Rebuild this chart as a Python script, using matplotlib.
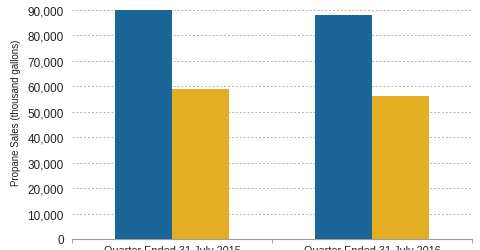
import matplotlib
matplotlib.use("Agg")
import matplotlib.pyplot as plt
import numpy as np

categories = ["Quarter Ended 31 July 2015", "Quarter Ended 31 July 2016"]
series_a = [89900, 87800]
series_b = [58900, 56100]
yticks = [0, 10000, 20000, 30000, 40000, 50000, 60000, 70000, 80000, 90000]

plt.rcParams['font.family'] = ['Liberation Sans', 'DejaVu Sans']

fig = plt.figure(figsize=(4.8, 2.51), dpi=100)
ax = fig.add_axes([72/480, 11/251, 400/480, 229.3/251])

x = np.arange(len(categories))
w = 0.285
ax.bar(x - w/2, series_a, width=w, color="#1B6699", zorder=3)
ax.bar(x + w/2, series_b, width=w, color="#E3AD24", zorder=3)

ax.set_xlim(-0.5, len(categories) - 0.5)
ax.set_ylim(0, 90000)
ax.set_yticks(yticks)
ax.set_yticklabels([f"{v:,}" for v in yticks], fontsize=8.5, color="#222222")
ax.yaxis.grid(True, linestyle=(0, (2, 2)), color="#b0b0b0", linewidth=0.7, zorder=0)
ax.tick_params(axis='y', length=0, pad=6)

ax.set_xticks(x)
ax.set_xticklabels(categories, fontsize=7.8, color="#222222")
ax.set_xticks(np.arange(-0.5, len(categories)), minor=True)
ax.tick_params(axis='x', which='major', length=0, pad=4.5)
ax.tick_params(axis='x', which='minor', length=3, color="#a0a0a0", width=0.7)

for s in ['top', 'right', 'left']:
    ax.spines[s].set_visible(False)
ax.spines['bottom'].set_color("#a0a0a0")
ax.spines['bottom'].set_linewidth(0.8)

fig.text(16/480, 1 - 113/251, "Propane Sales (thousand gallons)", rotation=90,
         ha='center', va='center', fontsize=7.0, color="#222222")

fig.savefig("out.png", dpi=100)
